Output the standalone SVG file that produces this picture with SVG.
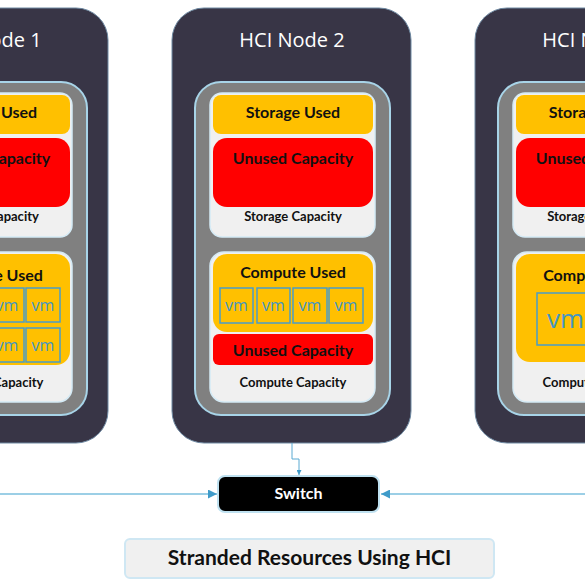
<svg xmlns="http://www.w3.org/2000/svg" width="585" height="585" viewBox="0 0 585 585">
<defs>
<style>
.outer{fill:#383546;stroke:#6f8aa3;stroke-width:1}
.inner{fill:#808080;stroke:#a8d4e8;stroke-width:2}
.panel{fill:#f0f0f0;stroke:#d4eaf5;stroke-width:1.5}
.yel{fill:#ffc000}
.red{fill:#ff0000}
.vm{fill:none;stroke:#4a9cc8;stroke-width:1.5}
.vmt{font-family:"Open Sans","Noto Sans",sans-serif;font-size:16px;fill:#4396c4;text-anchor:middle}
.title{font-family:"Open Sans","Noto Sans",sans-serif;font-size:20px;fill:#ffffff;text-anchor:middle}
.lbl{font-family:Lato,"Liberation Sans",sans-serif;font-weight:bold;font-size:16px;fill:#111;text-anchor:middle}
.small{font-family:Lato,"Liberation Sans",sans-serif;font-weight:bold;font-size:13px;fill:#111;text-anchor:middle}
.conn{fill:none;stroke:#9ccfe6;stroke-width:1.8}
</style>
<marker id="arr" viewBox="0 0 10 10" refX="10" refY="5" markerWidth="5" markerHeight="5" orient="auto" markerUnits="userSpaceOnUse">
<path d="M0,0 L10,5 L0,10 z" fill="#3f9bc9"/>
</marker>
<marker id="arr2" viewBox="0 0 10 10" refX="10" refY="5" markerWidth="9" markerHeight="9" orient="auto" markerUnits="userSpaceOnUse">
<path d="M0,0 L10,5 L0,10 z" fill="#3f9bc9"/>
</marker>
</defs>

<g id="node1" transform="translate(-303,0)">
<rect class="outer" x="172" y="8" width="239" height="435" rx="32"/>
<text class="title" x="292" y="47">HCI Node 1</text>
<rect class="inner" x="195" y="82" width="195" height="333" rx="26"/>
<rect class="panel" x="210" y="93" width="165" height="144" rx="12"/>
<rect class="yel" x="213" y="95" width="160" height="39" rx="8"/>
<text class="lbl" x="293" y="118">Storage Used</text>
<rect class="red" x="213" y="138" width="160" height="69" rx="14"/>
<text class="lbl" x="293" y="164">Unused Capacity</text>
<text class="small" x="293" y="221">Storage Capacity</text>
<rect class="panel" x="210" y="252" width="165" height="150" rx="14"/>
<rect class="yel" x="213" y="254" width="160" height="111" rx="14"/>
<text class="lbl" x="293" y="281">Compute Used</text>
<rect class="vm" x="220" y="288" width="33" height="34"/>
<rect class="vm" x="257" y="288" width="33" height="34"/>
<rect class="vm" x="293" y="288" width="34" height="34"/>
<rect class="vm" x="329" y="288" width="34" height="34"/>
<rect class="vm" x="220" y="328" width="33" height="34"/>
<rect class="vm" x="257" y="328" width="33" height="34"/>
<rect class="vm" x="293" y="328" width="34" height="34"/>
<rect class="vm" x="329" y="328" width="34" height="34"/>
<text class="vmt" x="236.5" y="311">vm</text>
<text class="vmt" x="273.5" y="311">vm</text>
<text class="vmt" x="310" y="311">vm</text>
<text class="vmt" x="346" y="311">vm</text>
<text class="vmt" x="236.5" y="351">vm</text>
<text class="vmt" x="273.5" y="351">vm</text>
<text class="vmt" x="310" y="351">vm</text>
<text class="vmt" x="346" y="351">vm</text>
<text class="small" x="293" y="387">Compute Capacity</text>
</g>

<g id="node2">
<rect class="outer" x="172" y="8" width="239" height="435" rx="32"/>
<text class="title" x="292" y="47">HCI Node 2</text>
<rect class="inner" x="195" y="82" width="195" height="333" rx="26"/>
<rect class="panel" x="210" y="93" width="165" height="144" rx="12"/>
<rect class="yel" x="213" y="95" width="160" height="39" rx="8"/>
<text class="lbl" x="293" y="118">Storage Used</text>
<rect class="red" x="213" y="138" width="160" height="69" rx="14"/>
<text class="lbl" x="293" y="164">Unused Capacity</text>
<text class="small" x="293" y="221">Storage Capacity</text>
<rect class="panel" x="210" y="252" width="165" height="150" rx="14"/>
<rect class="yel" x="213" y="254" width="160" height="78" rx="14"/>
<text class="lbl" x="293" y="278">Compute Used</text>
<rect class="vm" x="220" y="288" width="33" height="35"/>
<rect class="vm" x="257" y="288" width="33" height="35"/>
<rect class="vm" x="293" y="288" width="34" height="35"/>
<rect class="vm" x="329" y="288" width="34" height="35"/>
<text class="vmt" x="236.5" y="311">vm</text>
<text class="vmt" x="273.5" y="311">vm</text>
<text class="vmt" x="310" y="311">vm</text>
<text class="vmt" x="346" y="311">vm</text>
<rect class="red" x="213" y="334" width="160" height="31" rx="6"/>
<text class="lbl" x="293" y="356">Unused Capacity</text>
<text class="small" x="293" y="387">Compute Capacity</text>
</g>

<g id="node3" transform="translate(303,0)">
<rect class="outer" x="172" y="8" width="239" height="435" rx="32"/>
<text class="title" x="292" y="47">HCI Node 3</text>
<rect class="inner" x="195" y="82" width="195" height="333" rx="26"/>
<rect class="panel" x="210" y="93" width="165" height="144" rx="12"/>
<rect class="yel" x="213" y="95" width="160" height="39" rx="8"/>
<text class="lbl" x="293" y="118">Storage Used</text>
<rect class="red" x="213" y="138" width="160" height="69" rx="14"/>
<text class="lbl" x="293" y="164">Unused Capacity</text>
<text class="small" x="293" y="221">Storage Capacity</text>
<rect class="panel" x="210" y="252" width="165" height="150" rx="14"/>
<rect class="yel" x="213" y="254" width="160" height="108" rx="14"/>
<text class="lbl" x="293" y="281">Compute Used</text>
<rect class="vm" x="234" y="293" width="57" height="52"/>
<text class="vmt" x="262.5" y="328" style="font-size:26px">vm</text>
<text class="small" x="293" y="387">Compute Capacity</text>
</g>

<g id="connectors">
<polyline points="292,443 292,459 299,459 299,475" fill="none" stroke="#5aaad2" stroke-width="1" marker-end="url(#arr)"/>
<line class="conn" x1="0" y1="494" x2="217" y2="494" marker-end="url(#arr2)"/>
<line class="conn" x1="585" y1="494" x2="381" y2="494" marker-end="url(#arr2)"/>
</g>

<g id="switch">
<rect x="218" y="476" width="161" height="36" rx="7" fill="#000" stroke="#bfe1f0" stroke-width="2"/>
<text x="298.5" y="499" style="font-family:Lato,'Liberation Sans',sans-serif;font-weight:bold;font-size:16px;fill:#fff;text-anchor:middle">Switch</text>
</g>

<g id="caption">
<rect x="125" y="539" width="369" height="39" rx="5" fill="#f0f0f0" stroke="#cfe7f3" stroke-width="2"/>
<text x="309.5" y="565" style="font-family:Lato,'Liberation Sans',sans-serif;font-weight:bold;font-size:21px;fill:#111;text-anchor:middle">Stranded Resources Using HCI</text>
</g>
</svg>
